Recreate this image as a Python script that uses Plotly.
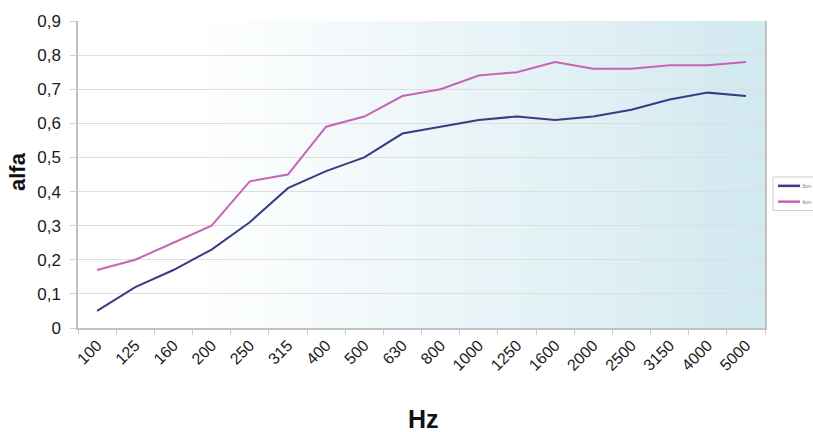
import plotly.graph_objects as go

freqs = ["100", "125", "160", "200", "250", "315", "400", "500", "630", "800",
         "1000", "1250", "1600", "2000", "2500", "3150", "4000", "5000"]
alfa_3cm = [0.05, 0.12, 0.17, 0.23, 0.31, 0.41, 0.46, 0.50, 0.57, 0.59,
            0.61, 0.62, 0.61, 0.62, 0.64, 0.67, 0.69, 0.68]
alfa_4cm = [0.17, 0.20, 0.25, 0.30, 0.43, 0.45, 0.59, 0.62, 0.68, 0.70,
            0.74, 0.75, 0.78, 0.76, 0.76, 0.77, 0.77, 0.78]
series_names = ["3cm", "4cm"]
colors = ["#3b3a86", "#c764b6"]

W, H = 813, 432
ML, MR, MT, MB = 78, 48, 17, 104
PW, PH = W - ML - MR, H - MT - MB


def px_x(px):
    return (px - ML) / PW


def px_y(py):
    return (H - MB - py) / PH


fig = go.Figure()
for name, vals, col in zip(series_names, [alfa_3cm, alfa_4cm], colors):
    fig.add_trace(go.Scatter(x=freqs, y=vals, mode="lines", name=name,
                             line=dict(color=col, width=2), showlegend=False))

# horizontal gradient background (white -> light teal)
n = 80
shapes = []
for i in range(n):
    t = (i + 0.5) / n
    s = max(0.0, (t - 0.17) / 0.83)
    r = round(255 + (210 - 255) * s)
    g = round(255 + (233 - 255) * s)
    b = round(255 + (240 - 255) * s)
    shapes.append(dict(type="rect", xref="x domain", yref="y domain",
                       x0=i / n, x1=(i + 1) / n + 0.002, y0=0, y1=1,
                       fillcolor=f"rgb({r},{g},{b})", line=dict(width=0),
                       layer="below"))

# legend box (drawn manually so it sits at the very right edge)
shapes.append(dict(type="rect", xref="paper", yref="paper",
                   x0=px_x(773), x1=px_x(814), y0=px_y(209), y1=px_y(175),
                   fillcolor="white", line=dict(color="#d0d0d0", width=1)))
annotations = []
for k, (name, col) in enumerate(zip(series_names, colors)):
    yy = 184 + 16 * k
    shapes.append(dict(type="line", xref="paper", yref="paper",
                       x0=px_x(778), x1=px_x(800), y0=px_y(yy), y1=px_y(yy),
                       line=dict(color=col, width=2.5)))
    annotations.append(dict(text=name, xref="paper", yref="paper",
                            x=px_x(800), y=px_y(yy), xanchor="left",
                            yanchor="middle", showarrow=False,
                            font=dict(size=5, color="#777")))

annotations += [
    dict(text="<b>alfa</b>", xref="paper", yref="paper", x=-0.088, y=0.51,
         textangle=-90, showarrow=False, font=dict(size=22, color="#111"),
         xanchor="center", yanchor="middle"),
    dict(text="<b>Hz</b>", xref="paper", yref="paper", x=0.503, y=-0.296,
         showarrow=False, font=dict(size=25, color="#111"),
         xanchor="center", yanchor="middle"),
]

fig.update_layout(
    width=W, height=H,
    margin=dict(l=ML, r=MR, t=MT, b=MB),
    paper_bgcolor="white", plot_bgcolor="rgba(0,0,0,0)",
    separators=",.",
    shapes=shapes,
    annotations=annotations,
    font=dict(family="Liberation Sans, Arial, sans-serif", color="#1a1a1a"),
    showlegend=False,
    xaxis=dict(type="category", range=[-0.5, 17.5], tickangle=-45,
               tickson="boundaries", ticks="outside", ticklen=5,
               tickcolor="#c8c8c8", showline=True, linecolor="#c0c0c0",
               linewidth=1.5, showgrid=False, tickfont=dict(size=16)),
    yaxis=dict(range=[0, 0.9], dtick=0.1, ticks="outside", ticklen=6,
               tickcolor="#d0d0d0", showline=True, linecolor="#c0c0c0",
               linewidth=1.5, mirror=True, gridcolor="#dedede", gridwidth=1,
               zeroline=False, tickfont=dict(size=17), ticklabelstandoff=6),
)

fig.write_html("out.html",
               config={"displayModeBar": False},
               post_script="document.body.style.margin='0';")
